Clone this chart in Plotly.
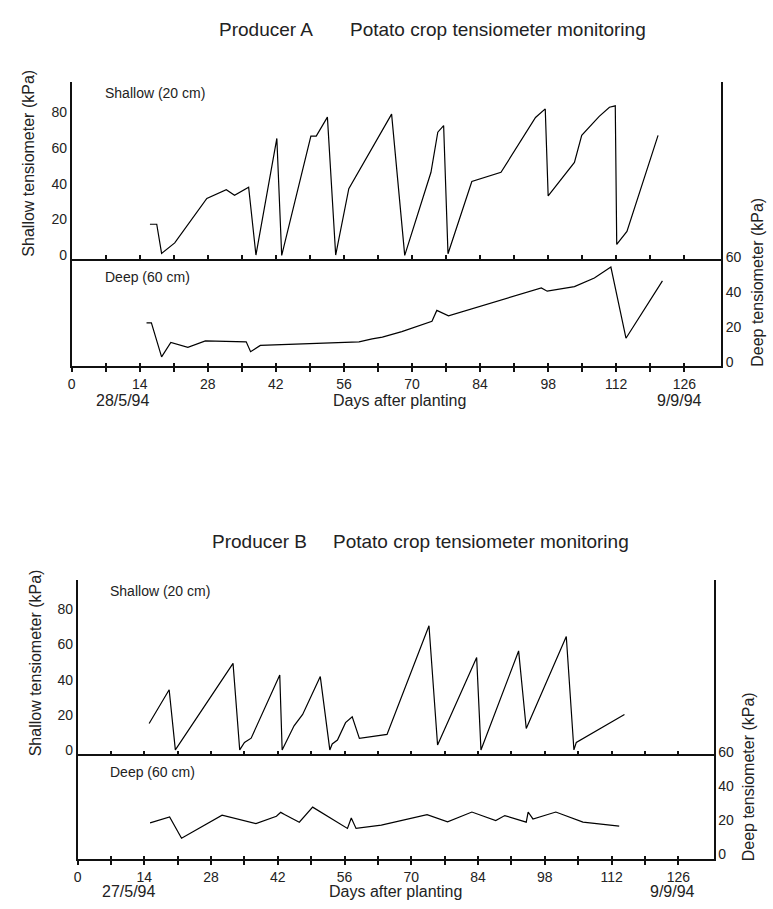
import plotly.graph_objects as go

# ---------------- data ----------------
tick_days = [0, 7, 14, 21, 28, 35, 42, 49, 56, 63, 70, 77, 84, 91, 98, 105, 112, 119, 126]
tick_text = ["0", "", "14", "", "28", "", "42", "", "56", "", "70", "", "84", "", "98", "", "112", "", "126"]
shallow_ticks = [0, 20, 40, 60, 80]
deep_ticks = [0, 20, 40, 60]

# Producer A
shallow_a_day = [16.1, 17.5, 18.5, 21.2, 27.8, 31.8, 33.5, 36.4, 37.9, 42.2, 43.2, 49.2, 50.3, 52.6,
                 54.3, 57.0, 65.8, 68.5, 73.9, 75.3, 76.5, 77.4, 82.3, 88.3, 95.4, 97.4, 98.0, 103.4,
                 104.9, 108.5, 110.6, 111.8, 112.1, 114.2, 120.6]
shallow_a_kpa = [17.4, 17.4, 1.1, 7.0, 31.8, 36.7, 33.6, 38.1, 0.2, 65.3, 0.0, 66.6, 66.6, 77.2,
                 0.2, 37.3, 78.9, 0.0, 46.4, 68.8, 72.5, 0.9, 41.3, 46.4, 77.0, 81.8, 33.2, 51.9,
                 67.0, 77.6, 82.7, 83.5, 6.1, 13.4, 67.0]
deep_a_day = [15.4, 16.4, 18.5, 20.4, 23.9, 27.5, 35.9, 36.8, 38.8, 59.1, 61.8, 63.9, 67.9, 74.1,
              75.1, 77.5, 96.6, 97.8, 103.4, 107.5, 110.9, 114.0, 121.5]
deep_a_kpa = [22.5, 22.5, 3.0, 11.3, 8.5, 12.2, 11.6, 6.0, 9.6, 11.6, 13.3, 14.3, 17.5, 23.4,
              29.6, 26.5, 42.4, 40.6, 43.2, 48.1, 54.4, 13.7, 46.5]

# Producer B
shallow_b_day = [15.0, 19.2, 20.5, 32.6, 34.0, 35.0, 36.4, 42.4, 42.9, 45.4, 47.2, 50.9, 52.9, 53.4,
                 54.5, 56.2, 57.6, 59.1, 64.9, 73.7, 75.5, 83.7, 84.6, 92.5, 94.1, 102.5, 104.1,
                 104.6, 114.7]
shallow_b_kpa = [15.0, 34.2, 0.0, 49.2, 0.0, 4.3, 6.7, 42.6, 0.0, 13.7, 20.2, 41.7, 0.0, 3.4,
                 5.6, 15.5, 18.9, 6.6, 8.8, 70.6, 2.8, 52.5, 0.0, 56.3, 12.2, 64.5, 0.0,
                 4.3, 20.2]
deep_b_day = [15.2, 19.3, 21.8, 30.3, 37.4, 41.7, 42.6, 43.4, 46.5, 49.3, 56.6, 57.4, 58.4, 63.7,
              73.3, 77.6, 82.7, 87.7, 89.6, 94.1, 94.5, 95.5, 100.3, 106.0, 113.6]
deep_b_kpa = [18.3, 21.8, 9.2, 22.8, 17.9, 22.2, 24.5, 23.2, 18.7, 27.6, 15.0, 21.2, 15.0, 16.9,
              23.2, 18.9, 24.7, 19.7, 22.6, 18.7, 24.7, 20.6, 24.7, 18.7, 16.3]

# ---------------- figure ----------------
W, H = 773, 909
FONT = "Liberation Sans, Arial, sans-serif"
LINE = "#111111"


def px(x, y):
    return x / W, 1 - y / H


fig = go.Figure()
line_style = dict(color="black", width=1.2)
fig.add_trace(go.Scatter(x=shallow_a_day, y=shallow_a_kpa, mode="lines", line=line_style, xaxis="x", yaxis="y"))
fig.add_trace(go.Scatter(x=deep_a_day, y=deep_a_kpa, mode="lines", line=line_style, xaxis="x", yaxis="y2"))
fig.add_trace(go.Scatter(x=shallow_b_day, y=shallow_b_kpa, mode="lines", line=line_style, xaxis="x4", yaxis="y3"))
fig.add_trace(go.Scatter(x=deep_b_day, y=deep_b_kpa, mode="lines", line=line_style, xaxis="x4", yaxis="y4"))
# empty traces so the extra (tick-only) axes get drawn
for xa, ya in [("x2", "y"), ("x3", "y2"), ("x5", "y3"), ("x6", "y4")]:
    fig.add_trace(go.Scatter(x=[], y=[], mode="lines", xaxis=xa, yaxis=ya, hoverinfo="skip"))

tickfont = dict(family=FONT, size=14, color="#222")


def xax(dom, rng, anchor, ticks, ticklen, labels):
    return dict(domain=dom, range=rng, anchor=anchor, showline=True, linecolor=LINE, linewidth=1.5,
                ticks=ticks, ticklen=ticklen, tickwidth=1.5, tickcolor=LINE,
                tickvals=tick_days, ticktext=tick_text, showticklabels=labels,
                tickfont=tickfont, showgrid=False, zeroline=False, fixedrange=True)


def yax(dom, rng, side, vals, anchor):
    return dict(domain=dom, range=rng, side=side, anchor=anchor, showline=True, mirror=True,
                linecolor=LINE, linewidth=1.5, ticks="", tickvals=vals, tickfont=tickfont,
                showgrid=False, zeroline=False, fixedrange=True)


xA = [68 / W, 721 / W]
xB = [74 / W, 713.3 / W]
rA = [0, 133.6]
rB = [0, 133.4]

fig.update_layout(
    width=W, height=H, margin=dict(l=0, r=0, t=0, b=0),
    paper_bgcolor="white", plot_bgcolor="rgba(0,0,0,0)", showlegend=False,
    font=dict(family=FONT, color="#222"),
    xaxis=xax(xA, rA, "y2", "outside", 4, True),
    xaxis2=xax(xA, rA, "y", "inside", 4, False),
    xaxis3=xax(xA, rA, "y2", "inside", 3, False),
    xaxis4=xax(xB, rB, "y4", "outside", 4, True),
    xaxis5=xax(xB, rB, "y3", "inside", 4, False),
    xaxis6=xax(xB, rB, "y4", "inside", 3, False),
    yaxis=yax([1 - 254.3 / H, 1 - 75 / H], [-1.82, 96.86], "left", shallow_ticks, "x"),
    yaxis2=yax([1 - 363.3 / H, 1 - 251.5 / H], [-2.25, 60.75], "right", deep_ticks, "x"),
    yaxis3=yax([1 - 757.3 / H, 1 - 580.7 / H], [-2.58, 96.41], "left", shallow_ticks, "x4"),
    yaxis4=yax([1 - 863.3 / H, 1 - 755 / H], [-3.09, 60.13], "right", deep_ticks, "x4"),
)

anns = [
    ("Producer A", 263.5, 22, 19, 0, "center"),
    ("Potato crop tensiometer monitoring", 496.7, 22, 19, 0, "center"),
    ("Producer B", 256.7, 541, 19, 0, "center"),
    ("Potato crop tensiometer monitoring", 479, 541, 19, 0, "center"),
    ("Shallow (20 cm)", 100, 86.7, 14, 0, "left"),
    ("Deep (60 cm)", 100, 273, 14, 0, "left"),
    ("Shallow (20 cm)", 105, 591.7, 14, 0, "left"),
    ("Deep (60 cm)", 105, 775, 14, 0, "left"),
    ("Shallow tensiometer (kPa)", 25, 157, 16, -90, "center"),
    ("Deep tensiometer (kPa)", 756.7, 278, 16, -90, "center"),
    ("Shallow tensiometer (kPa)", 32, 664, 16, -90, "center"),
    ("Deep tensiometer (kPa)", 748.3, 780, 16, -90, "center"),
    ("28/5/94", 119, 398, 16, 0, "center"),
    ("Days after planting", 398, 398, 16, 0, "center"),
    ("9/9/94", 679, 398, 16, 0, "center"),
    ("27/5/94", 125, 896, 16, 0, "center"),
    ("Days after planting", 394, 896, 16, 0, "center"),
    ("9/9/94", 672, 896, 16, 0, "center"),
]
for text, x, y, size, ang, anchor in anns:
    ax, ay = px(x, y)
    fig.add_annotation(text=text, x=ax, y=ay, xref="paper", yref="paper", showarrow=False,
                       xanchor=anchor, yanchor="middle", textangle=ang,
                       font=dict(family=FONT, size=size, color="#222"))

fig.write_html("out.html", config={"displayModeBar": False},
               post_script="document.body.style.margin='0';document.body.style.overflow='hidden';")
